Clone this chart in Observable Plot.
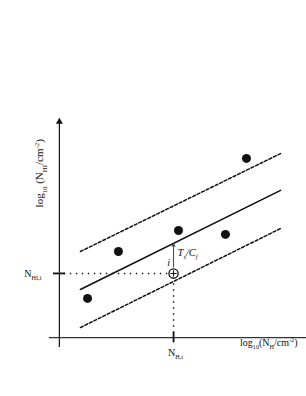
<!DOCTYPE html>
<html>
<head>
<meta charset="utf-8">
<script src="https://cdn.jsdelivr.net/npm/d3@7"></script>
<script src="https://cdn.jsdelivr.net/npm/@observablehq/plot@0.6"></script>
<style>
  html, body { margin: 0; padding: 0; background: #fff; }
  #chart svg { display: block; }
</style>
</head>
<body>
<div id="chart"></div>
<script>
// ---- data (arbitrary log units) ----
const pointsX = [1.14, 2.39, 4.82, 6.72, 7.57];
const pointsY = [1.79, 3.93, 4.89, 4.71, 8.18];

const lineX  = [0.85, 8.95];
const fitY   = [2.20, 6.72];
const upperY = [3.93, 8.40];
const lowerY = [0.46, 4.98];

const sampleX = [4.62];          // N_H,i
const sampleY = [2.93];          // N_HI,i
const arrowTopY = [4.30];        // fit value at N_H,i
const arrowBottomY = [3.22];

const xDomain = [-0.4, 10];
const yDomain = [-0.45, 10];
const tickHalf = 0.24;

const xTickLabel = "N_{H,i}";
const yTickLabel = "N_{HI,i}";
const xAxisLabel = "log_{10}(N_{H}/cm^{-2})";
const yAxisLabel = "log_{10} (N_{HI}/cm^{-2})";
const offsetLabel = "T_{s}/C_{f}";
const sampleLabel = "i";

const pts = pointsX.map((x, i) => ({x, y: pointsY[i]}));
const fitLine = lineX.map((x, i) => ({x, y: fitY[i]}));
const upLine = lineX.map((x, i) => ({x, y: upperY[i]}));
const lowLine = lineX.map((x, i) => ({x, y: lowerY[i]}));
const sample = [{x: sampleX[0], y: sampleY[0], y1: arrowBottomY[0], y2: arrowTopY[0]}];

const serif = "'Liberation Serif', 'Times New Roman', serif";
const ink = "#111";

const plot = Plot.plot({
  width: 306,
  height: 396,
  marginTop: 118,
  marginRight: 0,
  marginBottom: 49,
  marginLeft: 49,
  x: {domain: xDomain, axis: null},
  y: {domain: yDomain, axis: null},
  style: {background: "#fff", fontFamily: serif},
  marks: [
    // axes
    Plot.ruleY([0], {x1: xDomain[0], x2: xDomain[1], stroke: "#333", strokeWidth: 1.3}),
    Plot.ruleX([0], {y1: yDomain[0], y2: 9.85, stroke: ink, strokeWidth: 1.2}),
    Plot.dot([{x: 0, y: 9.85}], {x: "x", y: "y", symbol: "triangle", r: 2.6, fill: ink, stroke: "none"}),
    // dotted guides
    Plot.ruleY(sample, {y: "y", x1: 0.2, x2: "x", stroke: ink, strokeWidth: 1.4, strokeDasharray: "1.4,4.6"}),
    Plot.ruleX(sample, {x: "x", y1: 0.2, y2: "y", stroke: ink, strokeWidth: 1.4, strokeDasharray: "1.4,4.6"}),
    // axis ticks
    Plot.ruleY(sample, {y: "y", x1: -tickHalf, x2: tickHalf, stroke: ink, strokeWidth: 1.8}),
    Plot.ruleX(sample, {x: "x", y1: -tickHalf, y2: tickHalf, stroke: ink, strokeWidth: 1.8}),
    // lines
    Plot.line(upLine, {x: "x", y: "y", stroke: ink, strokeWidth: 1.5, strokeDasharray: "3,2"}),
    Plot.line(lowLine, {x: "x", y: "y", stroke: ink, strokeWidth: 1.5, strokeDasharray: "3,2"}),
    Plot.line(fitLine, {x: "x", y: "y", stroke: ink, strokeWidth: 1.6}),
    // data points
    Plot.dot(pts, {x: "x", y: "y", r: 4.5, fill: ink, stroke: "none"}),
    // offset arrow
    Plot.arrow(sample, {x1: "x", x2: "x", y1: "y1", y2: "y2", stroke: "#444", strokeWidth: 1, headLength: 5, headAngle: 50}),
    // sample point
    Plot.dot(sample, {x: "x", y: "y", r: 4.6, fill: "#fff", stroke: ink, strokeWidth: 1.3}),
    Plot.dot(sample, {x: "x", y: "y", symbol: "plus", r: 2.2, stroke: ink, strokeWidth: 1}),
    // labels
    Plot.text(sample, {x: "x", y: "y", text: () => sampleLabel, dx: -5, dy: -11, fontStyle: "italic", fontSize: 10, fill: ink}),
    Plot.text(sample, {x: "x", y: "y2", text: () => offsetLabel, textAnchor: "start", dx: 4, dy: 9, fontStyle: "italic", fontSize: 10.5, fill: ink}),
    Plot.text(sample, {x: 0, y: "y", text: () => yTickLabel, textAnchor: "end", dx: -18, fontSize: 10, fill: ink}),
    Plot.text(sample, {x: "x", y: 0, text: () => xTickLabel, dx: 2, dy: 15, fontSize: 10, fill: ink}),
    Plot.text([xAxisLabel], {frameAnchor: "bottom-right", textAnchor: "end", dx: -9, dy: -2, fontSize: 10, fill: ink}),
    Plot.text([yAxisLabel], {frameAnchor: "left", y: 7.5, rotate: -90, textAnchor: "middle", lineAnchor: "middle", dx: -10, fontSize: 11, fill: ink})
  ]
});

// turn _{..} / ^{..} markup into sub/superscript tspans
const NS = "http://www.w3.org/2000/svg";
plot.querySelectorAll("text").forEach(t => {
  const s = t.textContent;
  if (!/[_^]\{/.test(s)) return;
  const base = parseFloat(t.getAttribute("font-size") || t.parentNode.getAttribute("font-size") || 10) || 10;
  const parts = [];
  const re = /([_^])\{([^}]*)\}/g;
  let last = 0, m;
  while ((m = re.exec(s))) {
    if (m.index > last) parts.push({kind: "n", str: s.slice(last, m.index)});
    parts.push({kind: m[1], str: m[2]});
    last = re.lastIndex;
  }
  if (last < s.length) parts.push({kind: "n", str: s.slice(last)});
  while (t.firstChild) t.removeChild(t.firstChild);
  let shift = 0;
  parts.forEach(p => {
    const ts = document.createElementNS(NS, "tspan");
    ts.textContent = p.str;
    let target = 0;
    if (p.kind === "_") { target = base * 0.32; ts.setAttribute("font-size", base * 0.62); }
    else if (p.kind === "^") { target = -base * 0.38; ts.setAttribute("font-size", base * 0.62); }
    const d = target - shift;
    if (d !== 0) ts.setAttribute("dy", d);
    shift = target;
    t.appendChild(ts);
  });
});

document.getElementById("chart").appendChild(plot);
</script>
</body>
</html>
